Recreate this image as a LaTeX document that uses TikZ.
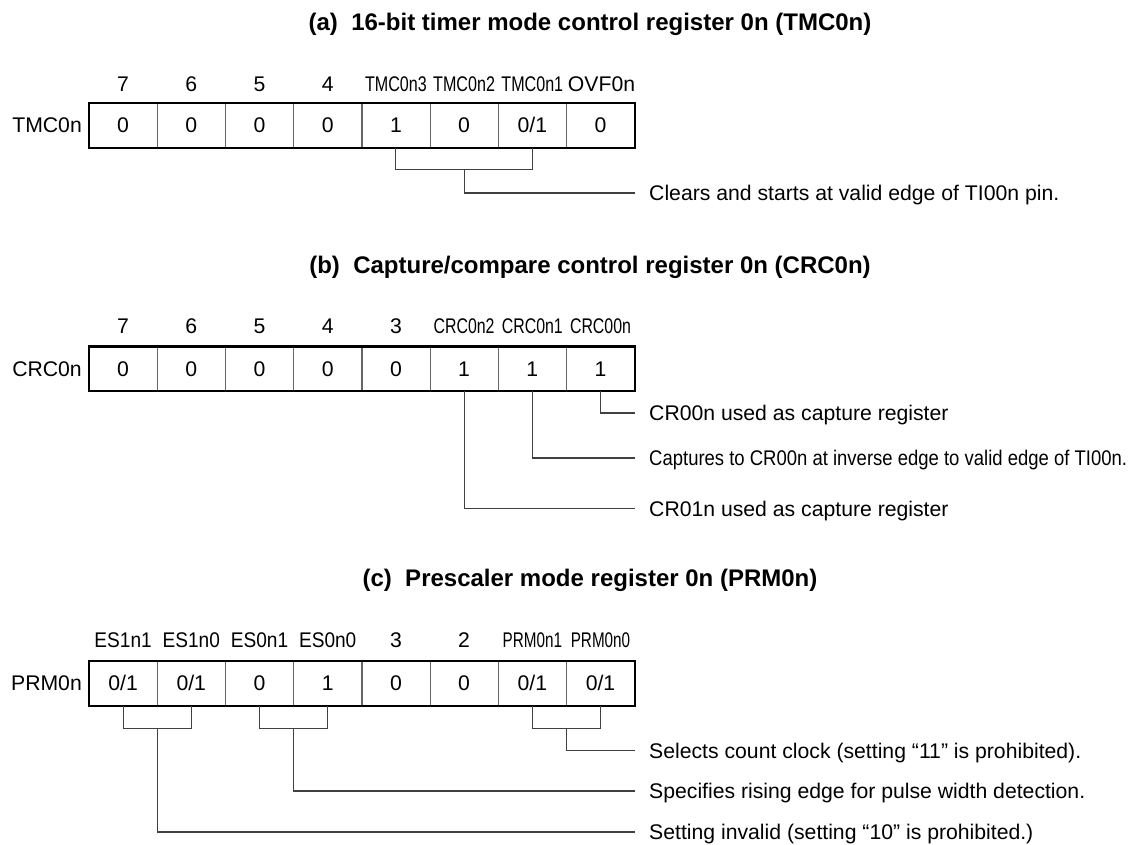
\documentclass[tikz,border=0pt]{standalone}
\usepackage{fontspec}
\setmainfont{Liberation Sans}
\usepackage{graphicx}
\begin{document}
\begin{tikzpicture}[x=1pt,y=-1pt,
  body/.style={font=\fontsize{21.2}{25}\selectfont, inner sep=0pt, text height=15.2pt, text depth=0pt},
  ttl/.style={font=\bfseries\fontsize{24}{28}\selectfont, inner sep=0pt, text height=17.2pt, text depth=0pt},
  cell/.style={body, minimum width=68.2pt, minimum height=44.5pt},
  regname/.style={body, anchor=east},
  desc/.style={body, anchor=west, inner xsep=14.4pt, inner ysep=0pt},
  outerbox/.style={line width=2.4pt, line join=miter},
  divider/.style={line width=1.1pt, draw=black!60},
  conn/.style={line width=1.1pt, draw=black!75}]
\useasboundingbox (0,0) rectangle (1131,844);

% ---------------- (a) ----------------
\node[ttl] (ta) at (590,22) {(a)\ \ 16-bit timer mode control register 0n (TMC0n)};
\node[body] (la1) at (123.1,84) {7};
\node[body] (la2) at (191.3,84) {6};
\node[body] (la3) at (259.5,84) {5};
\node[body] (la4) at (327.7,84) {4};
\node[body] (la5) at (395.9,84) {\scalebox{0.76}[1]{TMC0n3}};
\node[body] (la6) at (464.1,84) {\scalebox{0.76}[1]{TMC0n2}};
\node[body] (la7) at (532.3,84) {\scalebox{0.76}[1]{TMC0n1}};
\node[body] (la8) at (601.5,84) {OVF0n};
\node[regname] (na) at (82,125.25) {TMC0n};
\node[cell] (a1) at (123.1,125.25) {0};
\node[cell] (a2) at (191.3,125.25) {0};
\node[cell] (a3) at (259.5,125.25) {0};
\node[cell] (a4) at (327.7,125.25) {0};
\node[cell] (a5) at (395.9,125.25) {1};
\node[cell] (a6) at (464.1,125.25) {0};
\node[cell] (a7) at (532.3,125.25) {0/1};
\node[cell] (a8) at (600.5,125.25) {0};
\foreach \i in {1,...,7} \draw[divider] (a\i.north east) -- (a\i.south east);
\draw[outerbox] (a1.north west) rectangle (a8.south east);
\coordinate (ja) at (0,169.5);
\draw[conn] (a5.south) -- (a5.south |- ja) -- (a7.south |- ja) -- (a7.south);
\node[desc] (da) at (634.6,193) {Clears and starts at valid edge of TI00n pin.};
\draw[conn] (a6.south |- ja) |- (da.west);

% ---------------- (b) ----------------
\node[ttl] (tb) at (590,265) {(b)\ \ Capture/compare control register 0n (CRC0n)};
\node[body] (lb1) at (123.1,326) {7};
\node[body] (lb2) at (191.3,326) {6};
\node[body] (lb3) at (259.5,326) {5};
\node[body] (lb4) at (327.7,326) {4};
\node[body] (lb5) at (395.9,326) {3};
\node[body] (lb6) at (464.1,326) {\scalebox{0.75}[1]{CRC0n2}};
\node[body] (lb7) at (532.3,326) {\scalebox{0.75}[1]{CRC0n1}};
\node[body] (lb8) at (600.5,326) {\scalebox{0.75}[1]{CRC00n}};
\node[regname] (nb) at (82,368.75) {CRC0n};
\node[cell] (b1) at (123.1,368.75) {0};
\node[cell] (b2) at (191.3,368.75) {0};
\node[cell] (b3) at (259.5,368.75) {0};
\node[cell] (b4) at (327.7,368.75) {0};
\node[cell] (b5) at (395.9,368.75) {0};
\node[cell] (b6) at (464.1,368.75) {1};
\node[cell] (b7) at (532.3,368.75) {1};
\node[cell] (b8) at (600.5,368.75) {1};
\foreach \i in {1,...,7} \draw[divider] (b\i.north east) -- (b\i.south east);
\draw[outerbox] (b1.north west) rectangle (b8.south east);
\node[desc] (db1) at (634.6,413) {CR00n used as capture register};
\node[desc] (db2) at (634.6,458) {\scalebox{0.872}[1]{Captures to CR00n at inverse edge to valid edge of TI00n.}};
\node[desc] (db3) at (634.6,508.5) {CR01n used as capture register};
\draw[conn] (b8.south) |- (db1.west);
\draw[conn] (b7.south) |- (db2.west);
\draw[conn] (b6.south) |- (db3.west);

% ---------------- (c) ----------------
\node[ttl] (tc) at (590,578) {(c)\ \ Prescaler mode register 0n (PRM0n)};
\node[body] (lc1) at (123.1,640) {\scalebox{0.9}[1]{ES1n1}};
\node[body] (lc2) at (191.3,640) {\scalebox{0.9}[1]{ES1n0}};
\node[body] (lc3) at (259.5,640) {\scalebox{0.9}[1]{ES0n1}};
\node[body] (lc4) at (327.7,640) {\scalebox{0.9}[1]{ES0n0}};
\node[body] (lc5) at (395.9,640) {3};
\node[body] (lc6) at (464.1,640) {2};
\node[body] (lc7) at (532.3,640) {\scalebox{0.72}[1]{PRM0n1}};
\node[body] (lc8) at (600.5,640) {\scalebox{0.72}[1]{PRM0n0}};
\node[regname] (nc) at (82,683.25) {PRM0n};
\node[cell] (c1) at (123.1,683.25) {0/1};
\node[cell] (c2) at (191.3,683.25) {0/1};
\node[cell] (c3) at (259.5,683.25) {0};
\node[cell] (c4) at (327.7,683.25) {1};
\node[cell] (c5) at (395.9,683.25) {0};
\node[cell] (c6) at (464.1,683.25) {0};
\node[cell] (c7) at (532.3,683.25) {0/1};
\node[cell] (c8) at (600.5,683.25) {0/1};
\foreach \i in {1,...,7} \draw[divider] (c\i.north east) -- (c\i.south east);
\draw[outerbox] (c1.north west) rectangle (c8.south east);
\coordinate (jc) at (0,728.3);
\draw[conn] (c1.south) -- (c1.south |- jc) -- (c2.south |- jc) -- (c2.south);
\draw[conn] (c3.south) -- (c3.south |- jc) -- (c4.south |- jc) -- (c4.south);
\draw[conn] (c7.south) -- (c7.south |- jc) -- (c8.south |- jc) -- (c8.south);
\node[desc] (dc1) at (634.6,750.7) {Selects count clock (setting “11” is prohibited).};
\node[desc] (dc2) at (634.6,791) {Specifies rising edge for pulse width detection.};
\node[desc] (dc3) at (634.6,832) {Setting invalid (setting “10” is prohibited.)};
\draw[conn] (c7.south east |- jc) |- (dc1.west);
\draw[conn] (c3.south east |- jc) |- (dc2.west);
\draw[conn] (c1.south east |- jc) |- (dc3.west);
\end{tikzpicture}
\end{document}
